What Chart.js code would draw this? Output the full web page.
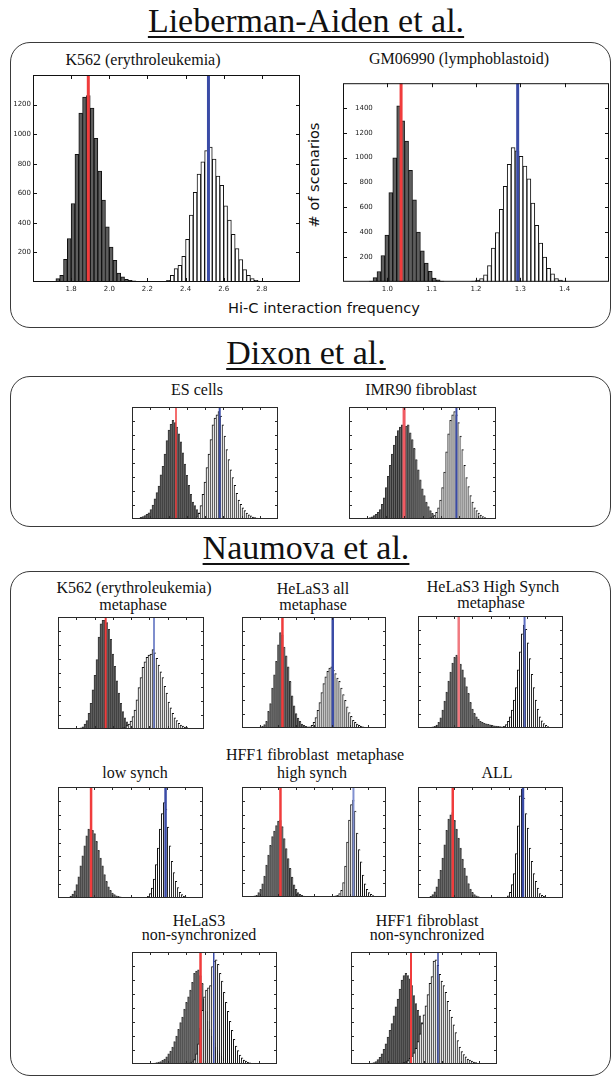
<!DOCTYPE html>
<html>
<head>
<meta charset="utf-8">
<title>Hi-C interaction frequency histograms</title>
<script src="https://cdn.jsdelivr.net/npm/chart.js@4.4.1/dist/chart.umd.min.js"></script>
<style>
  html, body { margin: 0; padding: 0; background: #fff; }
  #page { position: relative; width: 612px; height: 1077px; overflow: hidden; background: #fff; }
  .box { position: absolute; box-sizing: border-box; border: 1.5px solid #3a3a3a; border-radius: 20px; }
  .head { position: absolute; left: 306px; transform: translateX(-50%); font-family: 'Liberation Serif', serif;
          font-size: 34px; line-height: 34px; white-space: nowrap; color: #111;
          text-decoration: underline; text-decoration-thickness: 1.5px; text-underline-offset: 4px; }
  .cap { position: absolute; transform: translateX(-50%); font-family: 'Liberation Serif', serif;
         font-size: 16px; line-height: 16px; white-space: nowrap; color: #111; }
  .sans { position: absolute; font-family: 'DejaVu Sans', sans-serif; font-size: 14.6px; line-height: 15px;
          white-space: nowrap; color: #111; }
  canvas { position: absolute; }
</style>
</head>
<body>
<div id="page">
  <div class="head" style="top:4px">Lieberman-Aiden et al.</div>
  <div class="box" style="left:10px; top:42px; width:601px; height:286px"></div>
  <div class="cap" style="left:143px; top:52px">K562 (erythroleukemia)</div>
  <div class="cap" style="left:459px; top:51px">GM06990 (lymphoblastoid)</div>
  <div class="sans" style="left:324px; top:300px; transform:translateX(-50%)">Hi-C interaction frequency</div>
  <div class="sans" style="left:313px; top:175px; transform:translate(-50%,-50%) rotate(-90deg)"># of scenarios</div>

  <div class="head" style="top:336px">Dixon et al.</div>
  <div class="box" style="left:10px; top:376px; width:601px; height:151px"></div>
  <div class="cap" style="left:197px; top:382px">ES cells</div>
  <div class="cap" style="left:421px; top:382px">IMR90 fibroblast</div>

  <div class="head" style="top:531px">Naumova et al.</div>
  <div class="box" style="left:10px; top:571px; width:601px; height:505px"></div>
  <div class="cap" style="left:134px; top:580px">K562 (erythroleukemia)</div>
  <div class="cap" style="left:133px; top:597px">metaphase</div>
  <div class="cap" style="left:313px; top:581px">HeLaS3 all</div>
  <div class="cap" style="left:313px; top:597px">metaphase</div>
  <div class="cap" style="left:493px; top:579px">HeLaS3 High Synch</div>
  <div class="cap" style="left:491px; top:595px">metaphase</div>
  <div class="cap" style="left:315px; top:747px">HFF1 fibroblast&nbsp; metaphase</div>
  <div class="cap" style="left:135px; top:765px">low synch</div>
  <div class="cap" style="left:312px; top:765px">high synch</div>
  <div class="cap" style="left:497px; top:765px">ALL</div>
  <div class="cap" style="left:199px; top:913px">HeLaS3</div>
  <div class="cap" style="left:199px; top:927px">non-synchronized</div>
  <div class="cap" style="left:427px; top:913px">HFF1 fibroblast</div>
  <div class="cap" style="left:427px; top:927px">non-synchronized</div>
</div>

<script>
// ---------------- Lieberman-Aiden et al. (interaction frequency, counts) ----------------
const k562Bin = 0.02;
const k562DarkFrom = 1.69;
const k562Dark = [2, 5, 23, 45, 154, 294, 531, 864, 1142, 1250, 1260, 1176, 972, 751, 554, 373, 237, 147,
                  61, 35, 18, 12, 8, 5, 4, 3, 2, 1, 1];
const k562OpenFrom = 2.21;
const k562Open = [1, 1, 2, 3, 5, 11, 45, 90, 113, 174, 289, 452, 606, 730, 813, 889, 912, 832, 717, 654,
                  516, 418, 323, 226, 152, 84, 45, 23, 11, 7, 4, 2, 1];
const k562Means = [1.89, 2.52];

const gmBin = 0.0089;
const gmDarkFrom = 0.9633;
const gmDark = [5, 34, 83, 212, 376, 718, 998, 1418, 1296, 1133, 899, 661, 400, 250, 150, 85, 30, 15, 5];
const gmOpenFrom = 1.1947;
const gmOpen = [5, 13, 26, 57, 130, 272, 397, 583, 770, 946, 1081, 1055, 1011, 933, 829, 635, 454, 311,
                200, 109, 65, 26, 13, 5];
const gmMeans = [1.031, 1.294];

// Axis tick values of the two labelled panels
const k562XTicks = ['1.8', '2.0', '2.2', '2.4', '2.6', '2.8'];
const k562YTicks = [200, 400, 600, 800, 1000, 1200];
const gmXTicks = ['1.0', '1.1', '1.2', '1.3', '1.4'];
const gmYTicks = [200, 400, 600, 800, 1000, 1200, 1400];

// ---------------- unlabelled panels (relative position, relative height) ----------------
const smallBin = 2;

const esDarkFrom = 9;
const esDark = [1.5, 2.2, 3, 4.2, 5.5, 8.5, 12.5, 18, 23.5, 29.5, 39.5, 47, 58, 70, 79.5, 84.5, 88, 86, 82, 76,
                69, 59, 49, 39, 30, 22, 15, 12, 8.3, 5.5, 3.5, 2.2, 1.4, 0.8];
const esOpenFrom = 65;
const esOpen = [2, 5, 12, 22, 33, 46, 58, 71, 84, 90, 93, 96, 92, 84, 74, 62, 53, 44, 37, 30, 23, 17, 13, 10,
                7.5, 5.3, 3.8, 2.8, 1.8, 1.2, 0.8];
const esMeans = [44, 87.7];

const imrDarkFrom = 17;
const imrDark = [0.5, 0.8, 1.2, 2, 3, 4.2, 6, 8.5, 13, 19, 28, 38, 48, 58, 66, 74, 79, 82, 84, 82, 83, 84, 77,
                 71, 63, 53, 44, 35, 27, 21, 15, 11, 7.5, 5, 3, 2, 1];
const imrOpenFrom = 81;
const imrOpen = [1, 2, 3, 6, 10, 17, 28, 42, 60, 76, 88, 93, 96, 93, 86, 74, 62, 48, 37, 29, 21, 15, 10, 7.5,
                 5.3, 3.5, 2.2, 1.3, 0.7];
const imrMeans = [54.7, 106.7];

const k562mDarkFrom = 21;
const k562mDark = [0.5, 1, 2, 4.5, 7.5, 14, 23, 35, 48, 62, 82, 94, 97, 97, 95, 89, 80, 67, 56, 43, 32, 23,
                   15.5, 10, 6.5, 4, 3, 2, 1.5, 1, 0.5];
const k562mOpenFrom = 63;
const k562mOpen = [0.5, 1, 1.5, 3, 4.5, 7, 11, 17, 26, 37, 46, 55, 60, 64, 66, 67, 71, 68, 63, 57, 51, 46, 38,
                   32, 24, 19, 14, 10, 7.5, 5, 3.5, 2.5, 1.8, 1.2, 0.7];
const k562mMeans = [47.7, 96];

const helaAllDarkFrom = 17;
const helaAllDark = [0.5, 1, 1.7, 3, 6, 15, 22, 36, 48, 60, 75, 86, 84, 73, 65, 55, 42, 29, 20, 13, 9, 6, 3.5,
                     2.3, 1.5, 1, 0.6];
const helaAllOpenFrom = 69;
const helaAllOpen = [1, 2.5, 5, 9.5, 16, 23, 32, 40, 46, 51, 54, 55, 52, 49, 45, 42, 36, 30, 25, 19, 14, 10.5,
                     7, 5, 3.5, 2.5, 1.5, 1, 0.6];
const helaAllMeans = [41, 92];

const helaHighDarkFrom = 13;
const helaHighDark = [0.5, 1, 1.5, 2.5, 5, 9, 16, 24, 32, 42, 50, 58, 63, 65, 63, 57, 52, 45, 37, 31, 23, 17,
                      13, 10, 8, 6, 5, 4.2, 3.7, 3.2, 2.8, 2.4, 2, 1.7, 1.5, 1.2, 1, 0.8];
const helaHighOpenFrom = 85;
const helaHighOpen = [0.5, 1.5, 3, 6, 10, 16, 25, 36, 52, 68, 84, 92, 88, 76, 62, 48, 36, 25, 17, 10, 6.5, 4,
                      2.3, 1.2, 0.6];
const helaHighMeans = [41, 107.3];

const hffLowDarkFrom = 11;
const hffLowDark = [0.7, 1.8, 3.5, 6.5, 12, 19, 29, 38, 47, 56, 62, 62, 61, 58, 51, 43, 36, 29, 21, 15, 10, 7,
                    4.5, 3, 2, 1.4, 1, 0.5];
const hffLowOpenFrom = 89;
const hffLowOpen = [0.6, 1.5, 4, 9, 17, 30, 45, 62, 76, 86, 80, 64, 47, 33, 23, 15, 9.5, 5, 3, 1.6, 0.8];
const hffLowMeans = [33.3, 108.3];

const hffHighDarkFrom = 11;
const hffHighDark = [0.5, 1, 1.5, 4, 7, 12, 19, 29, 38, 47, 55, 60, 65, 69, 70, 64, 53, 44, 35, 26, 18, 11, 7,
                     4, 2.5, 1.5, 0.8, 0.4];
const hffHighOpenFrom = 93;
const hffHighOpen = [0.5, 1, 1.5, 3, 6, 13, 28, 50, 70, 84, 88, 78, 58, 43, 32, 20, 12, 7, 4, 2.5, 1.2, 0.6];
const hffHighMeans = [39, 113];

const hffAllDarkFrom = 11;
const hffAllDark = [0.6, 1.5, 3, 5.5, 10, 17, 25, 36, 48, 61, 71, 75, 77, 70, 62, 54, 45, 35, 27, 20, 13, 8, 5,
                    3, 2, 1.2, 0.6];
const hffAllOpenFrom = 89;
const hffAllOpen = [0.7, 2, 5, 12, 22, 40, 65, 92, 98, 90, 76, 63, 45, 33, 22, 15, 9, 4, 2.5, 1.5, 0.7];
const hffAllMeans = [35, 105.7];

const helaNsDarkFrom = 21;
const helaNsDark = [0.5, 0.8, 1.2, 1.8, 2.2, 3.2, 4.5, 6.5, 9, 11.5, 15, 20, 25, 31, 37, 42, 49, 55, 60, 66,
                    73, 81, 83, 84, 79, 72, 58, 47, 38, 31, 25, 19, 15, 12, 9.5, 7, 5, 3.8, 2.5, 1.8, 1.3,
                    0.8, 0.5];
const helaNsOpenFrom = 59;
const helaNsOpen = [1, 2, 4, 9, 18, 32, 48, 60, 66, 68, 70, 87, 92, 93, 89, 81, 74, 64, 55, 47, 38, 30, 22,
                    16, 12, 8, 5.5, 3.6, 2.5, 1.6, 1, 0.6, 0.4];
const helaNsMeans = [69, 82.3];

const hffNsDarkFrom = 19;
const hffNsDark = [0.5, 0.9, 1.3, 2.2, 4, 6, 9, 13, 18, 24, 30, 36, 43, 51, 58, 67, 75, 79, 81, 79, 76, 70,
                   61, 54, 48, 43, 37, 32, 28, 23, 19, 15, 12, 9, 7, 5, 3.8, 2.8, 2, 1.5, 1.1, 0.6];
const hffNsOpenFrom = 51;
const hffNsOpen = [0.8, 1.3, 2, 3, 5, 7, 10, 14, 20, 27, 36, 44, 52, 62, 72, 78, 92, 93, 88, 80, 74, 70, 64,
                   56, 48, 42, 35, 28, 21, 15, 11, 8.5, 6.5, 4.5, 3.5, 2.5, 1.8, 1.2, 0.6];
const hffNsMeans = [60, 87];

// ---------------- drawing ----------------
Chart.defaults.font.family = "'DejaVu Sans', sans-serif";

// Closed frame with short inward tick marks on all four sides
const frameTicks = {
  id: 'frameTicks',
  afterDatasetsDraw(chart, args, o) {
    const { ctx, chartArea: a, scales: { x, y } } = chart;
    const len = o.len;
    ctx.save();
    ctx.strokeStyle = o.color;
    ctx.lineWidth = 1;
    ctx.beginPath();
    x.ticks.forEach(t => {
      const px = Math.round(x.getPixelForValue(t.value)) + 0.5;
      if (px <= a.left + 1.5 || px >= a.right - 1.5) return;
      ctx.moveTo(px, a.bottom); ctx.lineTo(px, a.bottom - len);
      ctx.moveTo(px, a.top); ctx.lineTo(px, a.top + len);
    });
    y.ticks.forEach(t => {
      const py = Math.round(y.getPixelForValue(t.value)) + 0.5;
      if (py <= a.top + 1.5 || py >= a.bottom - 1.5) return;
      ctx.moveTo(a.left, py); ctx.lineTo(a.left + len, py);
      ctx.moveTo(a.right, py); ctx.lineTo(a.right - len, py);
    });
    ctx.stroke();
    ctx.strokeRect(a.left + 0.5, a.top + 0.5, a.right - a.left - 1, a.bottom - a.top - 1);
    ctx.restore();
  }
};

const DARK_BIG = { backgroundColor: '#5e5e5e', borderColor: '#101010', borderWidth: { left: 1, right: 1, top: 1, bottom: 0 } };
const OPEN_BIG = { backgroundColor: '#ffffff', borderColor: '#101010', borderWidth: { left: 1, right: 1, top: 1, bottom: 0 } };
const DARK_SMALL = { backgroundColor: '#626262', borderColor: '#333333', borderWidth: { left: 1, right: 0, top: 1, bottom: 0 } };
const OPEN_SMALL = { backgroundColor: '#ffffff', borderColor: '#101010', borderWidth: { left: 1, right: 0, top: 1, bottom: 0 } };
const RED = '#f03c3c';
const BLUE = '#3a4ba6';

function histo(from, bin, counts, look, order) {
  return Object.assign({
    type: 'bar',
    data: counts.map((c, i) => ({ x: from + i * bin, y: c })),
    grouped: false,
    barPercentage: 1,
    categoryPercentage: 1,
    order: order
  }, look);
}

function meanLine(v, top, color, width) {
  return {
    type: 'line',
    data: [{ x: v, y: 0 }, { x: v, y: top }],
    borderColor: color,
    borderWidth: width,
    pointRadius: 0,
    fill: false,
    tension: 0,
    order: 0
  };
}

const page = document.getElementById('page');

// rect: plot area on the page; pad: room around it inside the canvas;
// ax.xBand / ax.yBand: part of that room kept by the tick-label bands
function panel(rect, pad, datasets, ax) {
  const c = document.createElement('canvas');
  const W = rect.w + pad.left + pad.right;
  const H = rect.h + pad.top + pad.bottom;
  c.width = W; c.height = H;
  c.style.left = (rect.l - pad.left) + 'px';
  c.style.top = (rect.t - pad.top) + 'px';
  c.style.width = W + 'px';
  c.style.height = H + 'px';
  page.appendChild(c);
  const xBand = ax.xBand || 0;
  const yBand = ax.yBand || 0;
  const tickFont = { family: "'DejaVu Sans', sans-serif", size: 7 };
  new Chart(c, {
    type: 'bar',
    data: { datasets: datasets },
    options: {
      responsive: false,
      animation: false,
      events: [],
      devicePixelRatio: 1,
      layout: { padding: { left: pad.left - yBand, right: pad.right, top: pad.top, bottom: pad.bottom - xBand } },
      plugins: {
        legend: { display: false },
        tooltip: { enabled: false },
        frameTicks: { len: ax.tickLen, color: ax.frame }
      },
      scales: {
        x: {
          type: 'linear', min: ax.xMin, max: ax.xMax, offset: false,
          grid: { display: false, drawTicks: false, offset: false },
          border: { display: false },
          ticks: {
            display: !!ax.xLabels, stepSize: ax.xStep, autoSkip: false, maxRotation: 0,
            padding: 3, color: '#222', font: tickFont,
            callback: v => ax.xLabels ? ax.xLabels(v) : ''
          },
          afterFit: s => { s.height = xBand; }
        },
        y: {
          type: 'linear', min: ax.yMin, max: ax.yMax,
          grid: { display: false, drawTicks: false },
          border: { display: false },
          ticks: {
            display: !!ax.yLabels, stepSize: ax.yStep, autoSkip: false,
            mirror: !!ax.yMirror, crossAlign: ax.yMirror ? 'far' : 'near',
            padding: ax.yMirror ? 12 : 2, color: '#222', font: tickFont,
            callback: v => ax.yLabels ? ax.yLabels(v) : ''
          },
          afterFit: s => { s.width = yBand; }
        }
      }
    },
    plugins: [frameTicks]
  });
}

function pick(list) {
  return v => {
    const hit = list.find(s => Math.abs(Number(s) - v) < 1e-6);
    return hit === undefined ? '' : String(hit);
  };
}

// K562 (erythroleukemia)
panel({ l: 33, t: 75, w: 267, h: 207 }, { left: 30, right: 6, top: 8, bottom: 16 }, [
  histo(k562DarkFrom, k562Bin, k562Dark, DARK_BIG, 2),
  histo(k562OpenFrom, k562Bin, k562Open, OPEN_BIG, 1),
  meanLine(k562Means[0], 1400, RED, 3),
  meanLine(k562Means[1], 1400, BLUE, 3)
], { xMin: 1.6, xMax: 3.0, xStep: 0.2, yMin: 0, yMax: 1400, yStep: 200, xBand: 14, yBand: 28,
     xLabels: pick(k562XTicks), yLabels: pick(k562YTicks), tickLen: 4, frame: '#111' });

// GM06990 (lymphoblastoid)
panel({ l: 343, t: 75, w: 267, h: 207 }, { left: 6, right: 2, top: 8, bottom: 16 }, [
  histo(gmDarkFrom, gmBin, gmDark, DARK_BIG, 2),
  histo(gmOpenFrom, gmBin, gmOpen, OPEN_BIG, 1),
  meanLine(gmMeans[0], 1600, RED, 3),
  meanLine(gmMeans[1], 1600, BLUE, 3)
], { xMin: 0.9, xMax: 1.5, xStep: 0.1, yMin: 0, yMax: 1600, yStep: 200, xBand: 14, yBand: 0,
     xLabels: pick(gmXTicks), yLabels: pick(gmYTicks), yMirror: true, tickLen: 4, frame: '#111' });

// Unlabelled panels
function small(rect, darkFrom, dark, openFrom, open, means, red, blue) {
  panel(rect, { left: 6, right: 6, top: 6, bottom: 6 }, [
    histo(darkFrom, smallBin, dark, DARK_SMALL, 2),
    histo(openFrom, smallBin, open, OPEN_SMALL, 1),
    meanLine(means[0], 100, red[0], red[1]),
    meanLine(means[1], 100, blue[0], blue[1])
  ], { xMin: 0, xMax: 146, xStep: 18.25, yMin: 0, yMax: 100, yStep: 12.5, tickLen: 3, frame: '#2a2a2a' });
}

small({ l: 132, t: 407, w: 146, h: 112 }, esDarkFrom, esDark, esOpenFrom, esOpen, esMeans, [RED, 1.5], [BLUE, 2]);
small({ l: 349, t: 407, w: 147, h: 112 }, imrDarkFrom, imrDark, imrOpenFrom, imrOpen, imrMeans, ['#f05a62', 3], [BLUE, 2]);

small({ l: 58, t: 617, w: 146, h: 112 }, k562mDarkFrom, k562mDark, k562mOpenFrom, k562mOpen, k562mMeans, [RED, 2], ['#5568bd', 1.5]);
small({ l: 242, t: 617, w: 144, h: 111 }, helaAllDarkFrom, helaAllDark, helaAllOpenFrom, helaAllOpen, helaAllMeans, [RED, 2.5], [BLUE, 2.5]);
small({ l: 418, t: 616, w: 145, h: 112 }, helaHighDarkFrom, helaHighDark, helaHighOpenFrom, helaHighOpen, helaHighMeans, ['#f07a80', 2.5], ['#5a6cc0', 2]);

small({ l: 58, t: 787, w: 145, h: 111 }, hffLowDarkFrom, hffLowDark, hffLowOpenFrom, hffLowOpen, hffLowMeans, [RED, 2.5], [BLUE, 2.5]);
small({ l: 242, t: 787, w: 144, h: 110 }, hffHighDarkFrom, hffHighDark, hffHighOpenFrom, hffHighOpen, hffHighMeans, [RED, 2.5], ['#8090d0', 2]);
small({ l: 418, t: 787, w: 145, h: 111 }, hffAllDarkFrom, hffAllDark, hffAllOpenFrom, hffAllOpen, hffAllMeans, [RED, 2.5], [BLUE, 2.5]);

small({ l: 132, t: 952, w: 145, h: 112 }, helaNsDarkFrom, helaNsDark, helaNsOpenFrom, helaNsOpen, helaNsMeans, [RED, 2.5], [BLUE, 1.5]);
small({ l: 351, t: 952, w: 146, h: 112 }, hffNsDarkFrom, hffNsDark, hffNsOpenFrom, hffNsOpen, hffNsMeans, [RED, 2], [BLUE, 1.5]);
</script>
</body>
</html>
